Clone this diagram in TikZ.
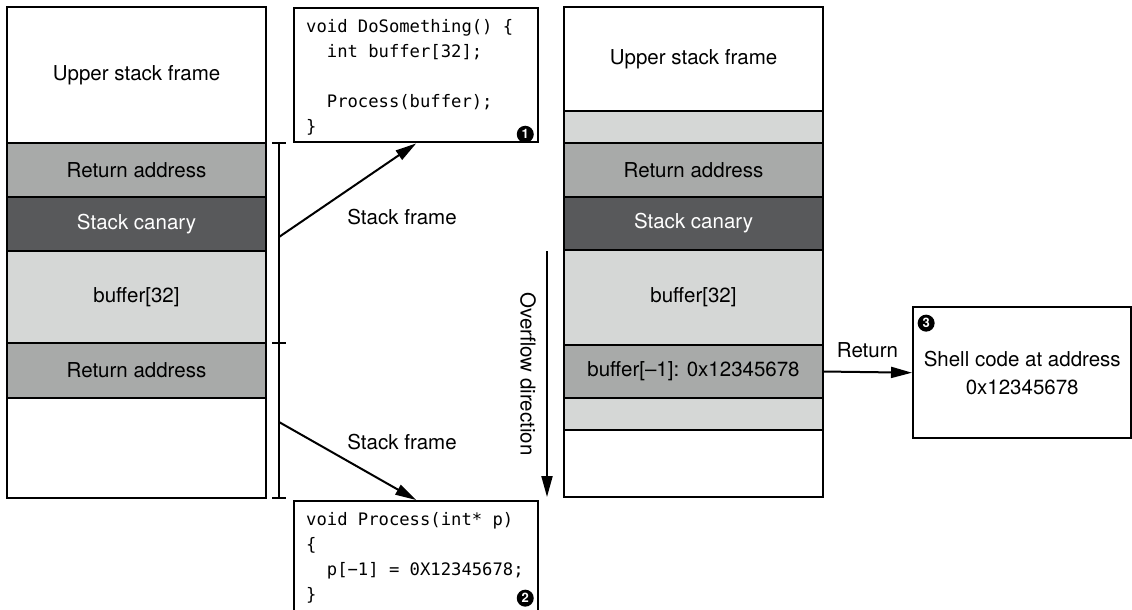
\documentclass[tikz,border=0pt]{standalone}
\usepackage{fontspec}
\setmainfont{TeX Gyre Heros}
\newfontfamily\codefont{DejaVu Sans Mono}
\usetikzlibrary{positioning,arrows.meta}
\definecolor{lightcell}{HTML}{D5D7D6}
\definecolor{midcell}{HTML}{A8AAA9}
\definecolor{darkcell}{HTML}{58595B}
\newcommand{\codesp}{\spaceskip=0.602em\xspaceskip=0.602em\relax}
\newcommand{\codeind}{\mbox{\ \ }}

\begin{document}
\begin{tikzpicture}[x=1pt,y=-1pt,
  cell/.style={draw,line width=2.4pt,minimum width=259pt,outer sep=0pt,inner sep=0pt,font=\fontsize{20.5}{24}\selectfont},
  codebox/.style={draw,line width=2.4pt,anchor=north west,align=left,text width=220pt,inner xsep=12pt,
    font=\codefont\fontsize{17.2}{25}\selectfont},
  numdot/.style={circle,fill=black,text=white,inner sep=0pt,minimum size=17pt,font=\bfseries\fontsize{13}{13}\selectfont},
  arr/.style={line width=2pt,-{Triangle[length=21pt,width=11pt]}},
  lbl/.style={font=\fontsize{20.5}{24}\selectfont}]
\useasboundingbox (0,0) rectangle (1132,610);

\node[cell,anchor=north,minimum height=136pt] (lupper) at (136.5,7) {Upper stack frame};
\node[cell,fill=midcell,minimum height=54pt,below=0pt of lupper] (lret) {Return address};
\node[cell,fill=darkcell,text=white,minimum height=54pt,below=0pt of lret] (lcanary) {Stack canary};
\node[cell,fill=lightcell,minimum height=92pt,below=0pt of lcanary] (lbuf) {buffer[32]};
\node[cell,fill=midcell,minimum height=55pt,below=0pt of lbuf] (lret2) {Return address};
\node[cell,minimum height=100pt,below=0pt of lret2] (llow) {};

\node[cell,anchor=north,minimum height=104pt] (rupper) at (693.5,7) {Upper stack frame};
\node[cell,fill=lightcell,minimum height=32pt,below=0pt of rupper] (rpad1) {};
\node[cell,fill=midcell,minimum height=54pt,below=0pt of rpad1] (rret) {Return address};
\node[cell,fill=darkcell,text=white,minimum height=53pt,below=0pt of rret] (rcanary) {Stack canary};
\node[cell,fill=lightcell,minimum height=95pt,below=0pt of rcanary] (rbuf) {buffer[32]};
\node[cell,fill=midcell,minimum height=53pt,below=0pt of rbuf] (rbufm) {buffer[--1]: 0x12345678};
\node[cell,fill=lightcell,minimum height=32pt,below=0pt of rbufm] (rpad2) {};
\node[cell,minimum height=67pt,below=0pt of rpad2] (rlow) {};

\node[codebox,minimum height=134pt,inner ysep=6pt] (dosome) at (293,7)
  {\codesp\rule{0pt}{17pt}void DoSomething() \{\\\codeind int buffer[32];\\\mbox{}\\\codeind Process(buffer);\\\}};
\node[numdot,above left=3pt and 8pt of dosome.south east] (one) {1};

\node[codebox,inner ysep=11pt] (process) at (293,500)
  {\codesp void Process(int* p)\\\{\\\codeind p[−1] = 0X12345678;\\\}};
\node[numdot,below left=92pt and 8pt of process.north east] (two) {2};

\node[draw,line width=2.4pt,anchor=north west,minimum width=218pt,minimum height=131pt,align=center,
  font=\fontsize{20.5}{28}\selectfont] (shell) at (912,306) {Shell code at address\\0x12345678};
\node[numdot,below right=11pt and 8pt of shell.north west] (three) {3};

\coordinate (btop) at (279,143);
\coordinate (bmid) at (279,343);
\coordinate (bbot) at (279,498);
\draw[line width=2pt] (btop) -- (bbot);
\foreach \c in {btop,bmid,bbot}
  \draw[line width=2pt] ([xshift=-7pt]\c) -- ([xshift=7pt]\c);

\coordinate (fromup) at (279,237);
\coordinate (fromdown) at (279,422);
\draw[arr] (fromup) -- (dosome.south);
\draw[arr] (fromdown) -- (process.north);
\node[lbl] (sfup) at (402,217) {Stack frame};
\node[lbl] (sfdown) at (402,442) {Stack frame};

\coordinate (ovtop) at (547,251);
\coordinate (ovbot) at (547,497);
\draw[arr] (ovtop) -- (ovbot);
\node[lbl,rotate=-90] (ovlbl) at (528,374) {Overflow direction};

\draw[arr] (rbufm.east) -- node[lbl,above=10pt] (retlbl) {Return} (shell.west);
\end{tikzpicture}
\end{document}
